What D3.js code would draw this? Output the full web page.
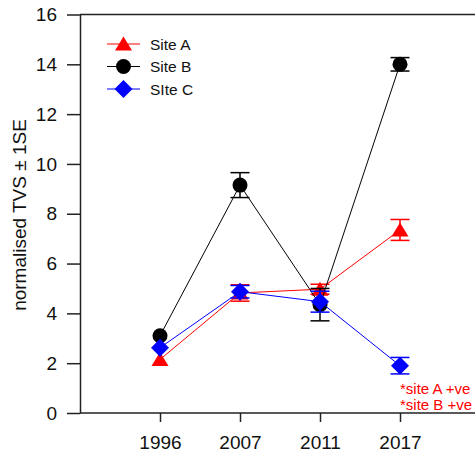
<!DOCTYPE html>
<html>
<head>
<meta charset="utf-8">
<script src="https://cdn.jsdelivr.net/npm/d3@7"></script>
<style>
  html, body { margin: 0; padding: 0; background: #fff; }
  svg { display: block; font-family: Arial, "Liberation Sans", sans-serif; }
</style>
</head>
<body>
<svg id="chart" width="475" height="454"></svg>
<script>
// Survey years (categorical x axis)
const years = ["1996", "2007", "2011", "2017"];

// Mean normalised TVS per site and its standard error (0 = no bar drawn)
const siteA   = [2.15, 4.82, 4.97, 7.35];
const siteAse = [0,    0.33, 0.20, 0.42];
const siteB   = [3.10, 9.15, 4.35, 14.0];
const siteBse = [0,    0.50, 0.65, 0.27];
const siteC   = [2.62, 4.87, 4.47, 1.90];
const siteCse = [0,    0.25, 0.42, 0.33];

const seriesNames = ["Site A", "Site B", "SIte C"];
const yTicks = [0, 2, 4, 6, 8, 10, 12, 14, 16];
const notes = ["*site A +ve", "*site B +ve"];

const W = 475, H = 454;
const svg = d3.select("#chart");

const x = d3.scalePoint().domain(years).range([160, 400]);
const y = d3.scaleLinear().domain([0, 16]).range([413, 14.5]);
const axisLeftX = 80;
const axisColor = "#222";

// marker shapes: flattened triangle, circle, diamond
const triangle = { draw(ctx) { ctx.moveTo(0, -7.5); ctx.lineTo(8.5, 6.5); ctx.lineTo(-8.5, 6.5); ctx.closePath(); } };
const circle   = { draw(ctx) { ctx.moveTo(7.5, 0); ctx.arc(0, 0, 7.5, 0, 2 * Math.PI); } };
const diamond  = { draw(ctx) { ctx.moveTo(0, -9); ctx.lineTo(9, 0); ctx.lineTo(0, 9); ctx.lineTo(-9, 0); ctx.closePath(); } };

const series = [
  { name: seriesNames[0], values: siteA, se: siteAse, color: "#ff0000", shape: triangle },
  { name: seriesNames[1], values: siteB, se: siteBse, color: "#000000", shape: circle },
  { name: seriesNames[2], values: siteC, se: siteCse, color: "#0000ff", shape: diamond }
];

// Frame lines: top and bottom run out to the right edge
svg.append("line").attr("x1", axisLeftX).attr("x2", W).attr("y1", y(16)).attr("y2", y(16))
  .attr("stroke", axisColor).attr("stroke-width", 1.5);
svg.append("line").attr("x1", axisLeftX).attr("x2", W).attr("y1", y(0)).attr("y2", y(0))
  .attr("stroke", axisColor).attr("stroke-width", 1.5);

// Y axis
const yAxis = svg.append("g")
  .attr("transform", `translate(${axisLeftX},0)`)
  .call(d3.axisLeft(y).tickValues(yTicks).tickFormat(d3.format("d")).tickSize(13).tickPadding(10).tickSizeOuter(0));
yAxis.select(".domain").attr("stroke", axisColor).attr("stroke-width", 1.5);
yAxis.selectAll(".tick line").attr("stroke", axisColor).attr("stroke-width", 1.5);
yAxis.selectAll(".tick text").attr("font-size", 19).attr("fill", "#111")
  .attr("font-family", "Arial, 'Liberation Sans', sans-serif");

// X axis
const xAxis = svg.append("g")
  .attr("transform", `translate(0,${y(0)})`)
  .call(d3.axisBottom(x).tickSize(9).tickPadding(14).tickSizeOuter(0));
xAxis.select(".domain").remove();
xAxis.selectAll(".tick line").attr("stroke", axisColor).attr("stroke-width", 1.5);
xAxis.selectAll(".tick text").attr("font-size", 19).attr("fill", "#111")
  .attr("font-family", "Arial, 'Liberation Sans', sans-serif");

// Y axis title
svg.append("text")
  .attr("transform", `translate(26,215) rotate(-90)`)
  .attr("text-anchor", "middle")
  .attr("font-size", 19)
  .attr("fill", "#111")
  .text("normalised TVS \u00B1 1SE");

// Series: line, error bars, markers
const line = d3.line().x((d, i) => x(years[i])).y(d => y(d));
const capHalf = 9.5;

series.forEach(s => {
  const g = svg.append("g");
  g.append("path").datum(s.values)
    .attr("d", line).attr("fill", "none").attr("stroke", s.color).attr("stroke-width", 1);

  const withErr = s.values.map((v, i) => ({ v, i, se: s.se[i] })).filter(d => d.se > 0);
  const eb = g.selectAll(".eb").data(withErr).join("g");
  eb.append("line")
    .attr("x1", d => x(years[d.i])).attr("x2", d => x(years[d.i]))
    .attr("y1", d => y(d.v - d.se)).attr("y2", d => y(d.v + d.se))
    .attr("stroke", s.color).attr("stroke-width", 1.5);
  [-1, 1].forEach(sign => {
    eb.append("line")
      .attr("x1", d => x(years[d.i]) - capHalf).attr("x2", d => x(years[d.i]) + capHalf)
      .attr("y1", d => y(d.v + sign * d.se)).attr("y2", d => y(d.v + sign * d.se))
      .attr("stroke", s.color).attr("stroke-width", 1.5);
  });

  g.selectAll(".pt").data(s.values).join("path")
    .attr("transform", (d, i) => `translate(${x(years[i])},${y(d)})`)
    .attr("d", d3.symbol().type(s.shape)())
    .attr("fill", s.color);
});

// Legend
const legend = svg.append("g");
series.forEach((s, i) => {
  const ly = 44 + i * 22.5;
  legend.append("line").attr("x1", 107).attr("x2", 140).attr("y1", ly).attr("y2", ly)
    .attr("stroke", s.color).attr("stroke-width", 1);
  legend.append("path").attr("transform", `translate(123.5,${ly})`)
    .attr("d", d3.symbol().type(s.shape)()).attr("fill", s.color);
  legend.append("text").attr("x", 150).attr("y", ly).attr("dy", "0.36em")
    .attr("font-size", 15.5).attr("fill", "#111").text(s.name);
});

// Trend notes
notes.forEach((t, i) => {
  svg.append("text").attr("x", 400).attr("y", 394 + i * 16)
    .attr("font-size", 15).attr("fill", "#ff0000").text(t);
});
</script>
</body>
</html>
